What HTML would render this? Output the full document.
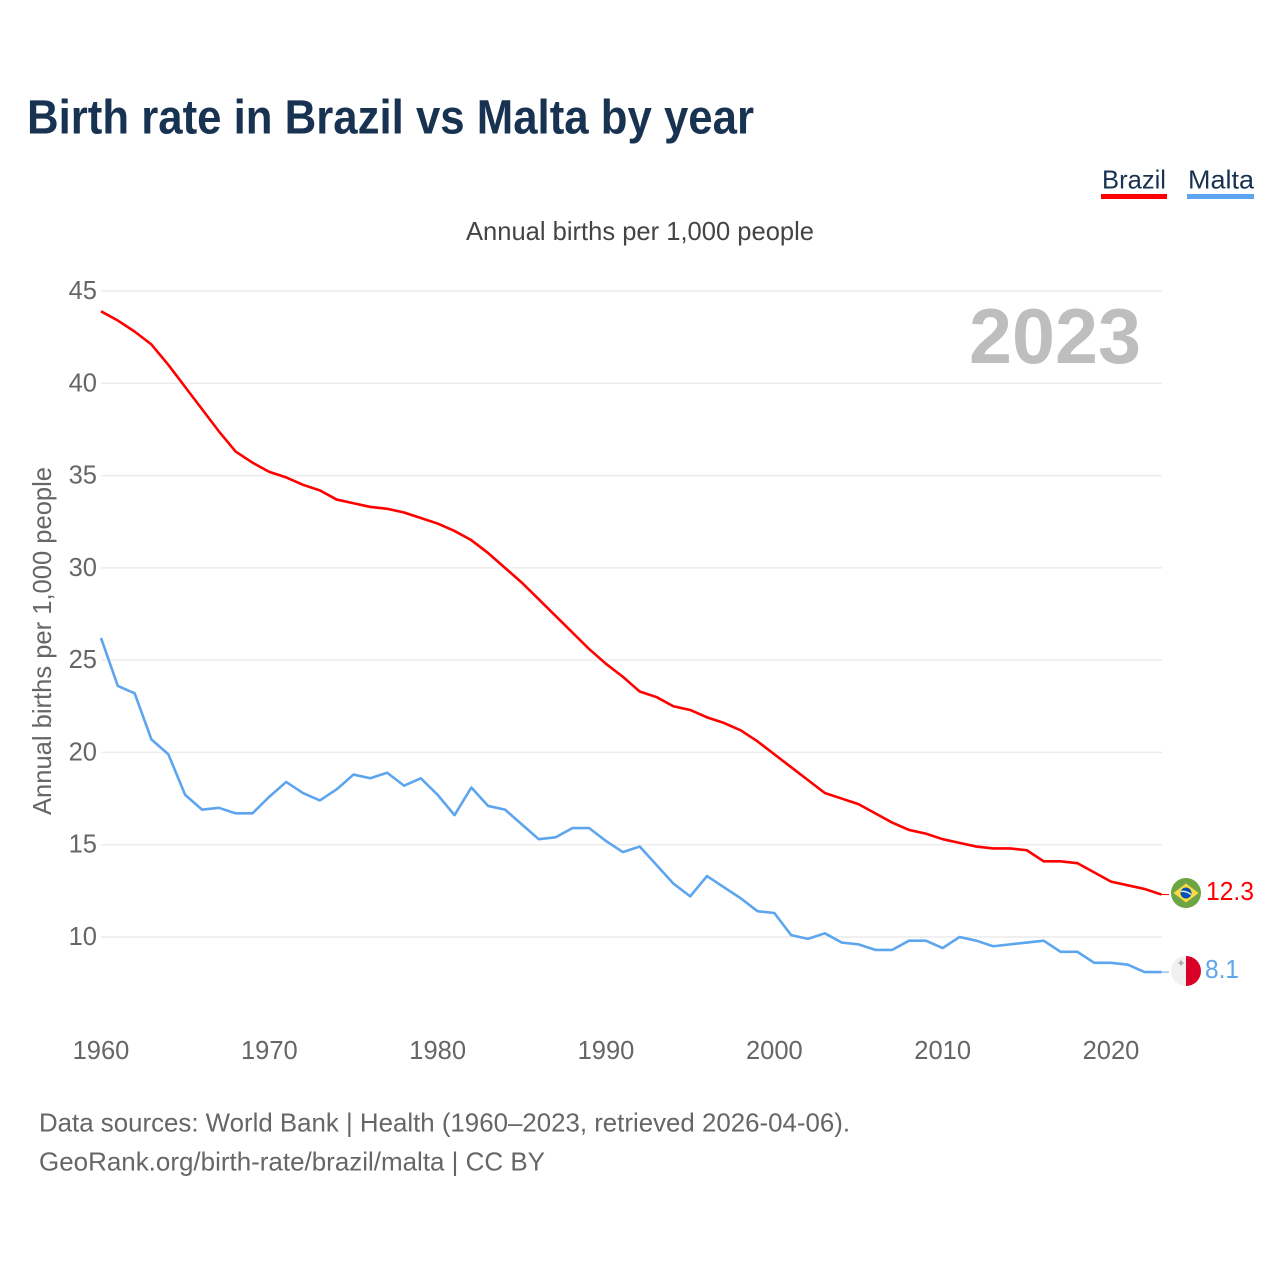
<!DOCTYPE html>
<html lang="en">
<head>
<meta charset="utf-8">
<title>Birth rate in Brazil vs Malta by year</title>
<style>
  html, body { margin: 0; padding: 0; background: #fff; }
  svg { display: block; }
  text { font-family: "Liberation Sans", sans-serif; }
</style>
</head>
<body>
<svg id="chart" xmlns="http://www.w3.org/2000/svg" width="1280" height="1280" viewBox="0 0 1280 1280">
  <rect width="1280" height="1280" fill="#fff"/>
  <text x="27" y="133.5" font-size="48" font-weight="700" fill="#183251" textLength="727" lengthAdjust="spacingAndGlyphs">Birth rate in Brazil vs Malta by year</text>

  <g>
    <text x="1102" y="188.5" font-size="26" fill="#183251" textLength="64" lengthAdjust="spacingAndGlyphs">Brazil</text>
    <rect x="1101" y="194" width="66" height="5" fill="#ff0000"/>
  </g>
  <g>
    <text x="1188" y="188.5" font-size="26" fill="#183251" textLength="66" lengthAdjust="spacingAndGlyphs">Malta</text>
    <rect x="1187" y="194" width="67" height="5" fill="#5da5ee"/>
  </g>

  <text x="466" y="240" font-size="26" fill="#444" textLength="348" lengthAdjust="spacingAndGlyphs">Annual births per 1,000 people</text>
  <text transform="translate(51,815) rotate(-90)" x="0" y="0" font-size="26" fill="#666" textLength="348" lengthAdjust="spacingAndGlyphs">Annual births per 1,000 people</text>

  <g id="grid"></g>
  <g id="yticks"></g>
  <g id="xticks"></g>

  <text x="969" y="363" font-size="78" font-weight="700" fill="#bebebe" textLength="172" lengthAdjust="spacingAndGlyphs">2023</text>

  <g id="series"></g>

  <g>
    <circle cx="1186" cy="893" r="15" fill="#6da544"/>
    <polygon points="1186,883.5 1198.5,893 1186,902.5 1173.5,893" fill="#ffda44"/>
    <circle cx="1186" cy="893" r="5.5" fill="#0052b4"/>
    <path d="M1180.8 891.5 Q1186 890.5 1191 894.5" stroke="#f0f0f0" stroke-width="1.3" fill="none"/>
  </g>
  <g>
    <circle cx="1186" cy="971" r="15" fill="#f0f0f0"/>
    <path d="M1186 956 A15 15 0 0 1 1186 986 Z" fill="#d80027"/>
    <path d="M1181 960.5 v5 M1178.5 963 h5" stroke="#acabb1" stroke-width="1.8"/>
  </g>

  <text id="label-brazil" x="1206" y="900" font-size="26" fill="#ff0000" textLength="48" lengthAdjust="spacingAndGlyphs"></text>
  <text id="label-malta" x="1205" y="978" font-size="26" fill="#5da5ee" textLength="34" lengthAdjust="spacingAndGlyphs"></text>

  <text x="39" y="1131.5" font-size="26" fill="#666" textLength="811" lengthAdjust="spacingAndGlyphs">Data sources: World Bank | Health (1960–2023, retrieved 2026-04-06).</text>
  <text x="39" y="1170.5" font-size="26" fill="#666" textLength="506" lengthAdjust="spacingAndGlyphs">GeoRank.org/birth-rate/brazil/malta | CC BY</text>
</svg>
<script>
const years = [1960,1961,1962,1963,1964,1965,1966,1967,1968,1969,1970,1971,1972,1973,1974,1975,1976,1977,1978,1979,1980,1981,1982,1983,1984,1985,1986,1987,1988,1989,1990,1991,1992,1993,1994,1995,1996,1997,1998,1999,2000,2001,2002,2003,2004,2005,2006,2007,2008,2009,2010,2011,2012,2013,2014,2015,2016,2017,2018,2019,2020,2021,2022,2023];
const brazilValues = [43.9,43.4,42.8,42.1,41.0,39.8,38.6,37.4,36.3,35.7,35.2,34.9,34.5,34.2,33.7,33.5,33.3,33.2,33.0,32.7,32.4,32.0,31.5,30.8,30.0,29.2,28.3,27.4,26.5,25.6,24.8,24.1,23.3,23.0,22.5,22.3,21.9,21.6,21.2,20.6,19.9,19.2,18.5,17.8,17.5,17.2,16.7,16.2,15.8,15.6,15.3,15.1,14.9,14.8,14.8,14.7,14.1,14.1,14.0,13.5,13.0,12.8,12.6,12.3];
const maltaValues = [26.2,23.6,23.2,20.7,19.9,17.7,16.9,17.0,16.7,16.7,17.6,18.4,17.8,17.4,18.0,18.8,18.6,18.9,18.2,18.6,17.7,16.6,18.1,17.1,16.9,16.1,15.3,15.4,15.9,15.9,15.2,14.6,14.9,13.9,12.9,12.2,13.3,12.7,12.1,11.4,11.3,10.1,9.9,10.2,9.7,9.6,9.3,9.3,9.8,9.8,9.4,10.0,9.8,9.5,9.6,9.7,9.8,9.2,9.2,8.6,8.6,8.5,8.1,8.1];
const yTickValues = [10,15,20,25,30,35,40,45];
const xTickValues = [1960,1970,1980,1990,2000,2010,2020];

const NS = 'http://www.w3.org/2000/svg';
function xScale(year) { return 101 + (year - 1960) * (1161.5 - 101) / 63; }
function yScale(value) { return 937 - (value - 10) * (937 - 291) / 35; }
function make(tag, parent) {
  const el = document.createElementNS(NS, tag);
  parent.appendChild(el);
  return el;
}

const grid = document.getElementById('grid');
const yticks = document.getElementById('yticks');
const xticks = document.getElementById('xticks');
const series = document.getElementById('series');

yTickValues.forEach(function (v) {
  const line = make('line', grid);
  
  
  line.setAttribute('x1', 101);
  line.setAttribute('x2', 1162);
  line.setAttribute('y1', yScale(v));
  line.setAttribute('y2', yScale(v));
  line.setAttribute('stroke', '#ececec');
  line.setAttribute('stroke-width', 1.5);

  const label = make('text', yticks);
  
  
  label.setAttribute('x', 97);
  label.setAttribute('y', yScale(v) + 8);
  label.setAttribute('text-anchor', 'end');
  label.setAttribute('font-size', 25.5);
  label.setAttribute('fill', '#666');
  label.textContent = v;
});

xTickValues.forEach(function (y) {
  const label = make('text', xticks);
  
  
  label.setAttribute('x', xScale(y));
  label.setAttribute('y', 1059);
  label.setAttribute('text-anchor', 'middle');
  label.setAttribute('font-size', 25.5);
  label.setAttribute('fill', '#666');
  label.textContent = y;
});

function pathFor(values) {
  return values.map(function (v, i) {
    return (i ? 'L' : 'M') + xScale(years[i]).toFixed(2) + ' ' + yScale(v).toFixed(2);
  }).join(' ');
}

const maltaLine = make('path', series);


maltaLine.setAttribute('d', pathFor(maltaValues));
maltaLine.setAttribute('fill', 'none');
maltaLine.setAttribute('stroke', '#5da5ee');
maltaLine.setAttribute('stroke-width', 2.6);
maltaLine.setAttribute('stroke-linejoin', 'round');

const brazilLine = make('path', series);


brazilLine.setAttribute('d', pathFor(brazilValues));
brazilLine.setAttribute('fill', 'none');
brazilLine.setAttribute('stroke', '#ff0000');
brazilLine.setAttribute('stroke-width', 2.6);
brazilLine.setAttribute('stroke-linejoin', 'round');

const lastBrazil = brazilValues[brazilValues.length - 1];
const lastMalta = maltaValues[maltaValues.length - 1];

const brazilLeader = make('line', series);


brazilLeader.setAttribute('x1', 1161.5);
brazilLeader.setAttribute('x2', 1169);
brazilLeader.setAttribute('y1', yScale(lastBrazil));
brazilLeader.setAttribute('y2', yScale(lastBrazil));
brazilLeader.setAttribute('stroke', '#ff0000');
brazilLeader.setAttribute('stroke-width', 1);

const maltaLeader = make('line', series);


maltaLeader.setAttribute('x1', 1161.5);
maltaLeader.setAttribute('x2', 1169);
maltaLeader.setAttribute('y1', yScale(lastMalta));
maltaLeader.setAttribute('y2', yScale(lastMalta));
maltaLeader.setAttribute('stroke', '#5da5ee');
maltaLeader.setAttribute('stroke-width', 1);

document.getElementById('label-brazil').textContent = lastBrazil.toFixed(1);
document.getElementById('label-malta').textContent = lastMalta.toFixed(1);
</script>
</body>
</html>
